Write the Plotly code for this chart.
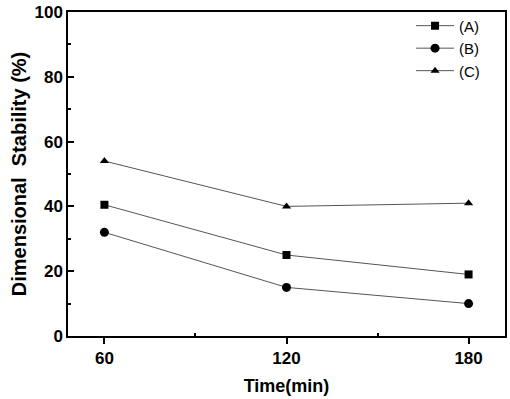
import plotly.graph_objects as go

time_min = [60, 120, 180]
series_a = [40.5, 25, 19]
series_b = [32, 15, 10]
series_c = [54, 40, 41]
names = ["(A)", "(B)", "(C)"]
symbols = ["square", "circle", "triangle-up"]

fig = go.Figure()
for name, vals, sym in zip(names, [series_a, series_b, series_c], symbols):
    fig.add_trace(go.Scatter(
        x=time_min, y=vals, name=name, mode="lines+markers",
        line=dict(color="#555555", width=1),
        marker=dict(symbol=sym, color="black", size=8 if sym != "circle" else 9),
    ))

fig.update_layout(
    width=510, height=399,
    margin=dict(l=68, r=5, t=12, b=63),
    plot_bgcolor="white", paper_bgcolor="white",
    font=dict(family="Liberation Sans, Arial", color="black"),
    showlegend=True,
    legend=dict(x=0.785, y=1.008, xanchor="left", yanchor="top",
                bgcolor="rgba(0,0,0,0)", font=dict(size=15),
                tracegroupgap=0, itemwidth=38),
)
fig.update_xaxes(
    range=[48, 192], tickvals=[60, 120, 180], automargin=False,
    ticks="outside", ticklen=6, tickwidth=1.5, tickcolor="black",
    minor=dict(tickvals=[90, 150], ticks="inside", ticklen=3, tickcolor="black"),
    showline=True, linecolor="black", linewidth=1.5, mirror=True,
    showgrid=False, zeroline=False,
    tickfont=dict(size=17, weight="bold"),
    title=dict(text="<b>Time(min)</b>", font=dict(size=18), standoff=12),
)
fig.update_yaxes(
    range=[0, 100], tickvals=[0, 20, 40, 60, 80, 100], automargin=False,
    ticks="inside", ticklen=6, tickwidth=1.5, tickcolor="black",
    minor=dict(tickvals=[10, 30, 50, 70, 90], ticks="inside", ticklen=3, tickcolor="black"),
    showline=True, linecolor="black", linewidth=1.5, mirror=True,
    showgrid=False, zeroline=False,
    tickfont=dict(size=17, weight="bold"),
    title=dict(text="<b>Dimensional&nbsp; Stability (%)</b>", font=dict(size=20), standoff=2),
)

fig.write_html("out.html", config={"displayModeBar": False},
               post_script="document.body.style.margin='0';")
